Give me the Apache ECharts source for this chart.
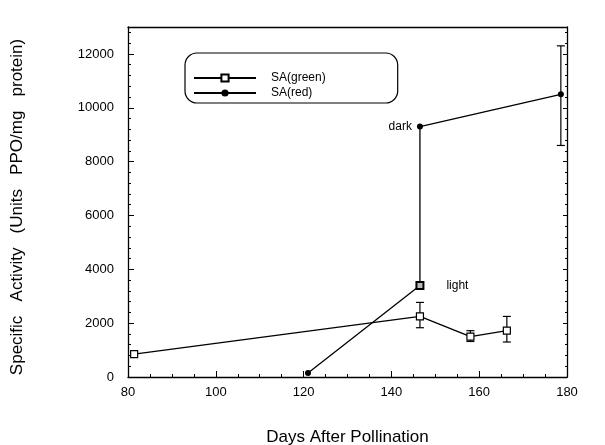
<!DOCTYPE html>
<html>
<head>
<meta charset="utf-8">
<title>Specific Activity</title>
<script src="https://cdn.jsdelivr.net/npm/echarts@6/dist/echarts.min.js"></script>
</head>
<body style="margin:0;background:#fff">
<div id="container" style="width:605px;height:445px"></div>
<script>
// days after pollination / specific activity
var greenDays = [81.4, 146.5, 158, 166.3];
var greenVals = [850, 2250, 1500, 1720];
var greenErrLow = [null, 1830, 1320, 1300];
var greenErrHigh = [null, 2770, 1720, 2250];

var redDays = [121, 146.5, 146.5, 178.6];
var redVals = [150, 3400, 9300, 10500];
var redErrLow = [null, null, null, 8600];
var redErrHigh = [null, null, null, 12300];

var xTicks = [80, 100, 120, 140, 160, 180];
var yTicks = [0, 2000, 4000, 6000, 8000, 10000, 12000];

var font = 'Liberation Sans, Arial, sans-serif';

function pairs(xs, ys) {
    var out = [];
    for (var i = 0; i < xs.length; i++) out.push([xs[i], ys[i]]);
    return out;
}
function errData(xs, lo, hi) {
    var out = [];
    for (var i = 0; i < xs.length; i++) {
        if (lo[i] != null) out.push([xs[i], lo[i], hi[i]]);
    }
    return out;
}
function renderErr(params, api) {
    var lo = api.coord([api.value(0), api.value(1)]);
    var hi = api.coord([api.value(0), api.value(2)]);
    var w = 4;
    var st = { stroke: '#000', lineWidth: 1.2 };
    return {
        type: 'group',
        children: [
            { type: 'line', shape: { x1: lo[0], y1: lo[1], x2: hi[0], y2: hi[1] }, style: st },
            { type: 'line', shape: { x1: lo[0] - w, y1: lo[1], x2: lo[0] + w, y2: lo[1] }, style: st },
            { type: 'line', shape: { x1: hi[0] - w, y1: hi[1], x2: hi[0] + w, y2: hi[1] }, style: st }
        ]
    };
}

var redData = pairs(redDays, redVals);
redData[1] = { value: redData[1], symbol: 'rect', symbolSize: 7,
    itemStyle: { color: '#bbb', borderColor: '#000', borderWidth: 2 },
    label: { show: true, position: 'right', distance: 22, formatter: 'light' } };
redData[2] = { value: redData[2],
    label: { show: true, position: 'left', distance: 5, formatter: 'dark' } };

var line = { show: true, onZero: false, lineStyle: { color: '#000', width: 1.3 } };

var myChart = echarts.init(document.getElementById('container'));
var option = {
    animation: false,
    backgroundColor: '#fff',
    textStyle: { fontFamily: font, color: '#000' },
    grid: { left: 128, right: 38, top: 27, bottom: 68, outerBoundsMode: 'none', containLabel: false },
    legend: {
        orient: 'vertical',
        left: 185, top: 53,
        padding: [19, 72, 4, 8],
        itemGap: 3,
        itemWidth: 62, itemHeight: 9,
        borderColor: '#000', borderWidth: 1.2, borderRadius: 12,
        textStyle: { fontFamily: font, fontSize: 12, color: '#000', padding: [0, 0, 0, 10] },
        data: ['SA(green)', 'SA(red)']
    },
    xAxis: [{
        type: 'value', min: 80, max: 180, interval: 20,
        name: 'Days After Pollination', nameLocation: 'middle', nameGap: 52,
        nameTextStyle: { fontFamily: font, fontSize: 17, color: '#000' },
        axisLine: line,
        axisTick: { show: true, inside: true, length: 6, lineStyle: { color: '#000' } },
        minorTick: { show: true, splitNumber: 4, length: 3, lineStyle: { color: '#000' } },
        axisLabel: { fontFamily: font, fontSize: 13, color: '#000', margin: 9,
            customValues: xTicks },
        splitLine: { show: false }
    }, {
        type: 'value', min: 80, max: 180, interval: 20, position: 'top',
        axisLine: line,
        axisTick: { show: false }, axisLabel: { show: false }, splitLine: { show: false }
    }],
    yAxis: [{
        type: 'value', min: 0, max: 13000, interval: 2000,
        name: 'Specific   Activity   (Units   PPO/mg   protein)', nameLocation: 'middle', nameGap: 102,
        nameTextStyle: { fontFamily: font, fontSize: 17, color: '#000', padding: [0, 10, 0, 0] },
        axisLine: line,
        axisTick: { show: true, inside: true, length: 6, lineStyle: { color: '#000' } },
        minorTick: { show: true, splitNumber: 5, length: 3, lineStyle: { color: '#000' } },
        axisLabel: { fontFamily: font, fontSize: 13, color: '#000', margin: 14,
            customValues: yTicks, formatter: function (v) { return String(v); } },
        splitLine: { show: false }
    }, {
        type: 'value', min: 0, max: 13000, interval: 2000, position: 'right',
        axisLine: line,
        axisTick: { show: true, inside: true, length: 4, lineStyle: { color: '#000' } },
        minorTick: { show: true, splitNumber: 5, length: 2, lineStyle: { color: '#000' } },
        axisLabel: { show: false }, splitLine: { show: false }
    }],
    series: [{
        name: 'SA(green)', type: 'line',
        data: pairs(greenDays, greenVals),
        symbol: 'rect', symbolSize: 7,
        itemStyle: { color: '#fff', borderColor: '#000', borderWidth: 1.2 },
        lineStyle: { color: '#000', width: 1.3 },
        z: 3
    }, {
        name: 'SA(red)', type: 'line',
        data: redData,
        symbol: 'circle', symbolSize: 6,
        itemStyle: { color: '#000' },
        lineStyle: { color: '#000', width: 1.3 },
        label: { fontFamily: font, fontSize: 12, color: '#000' },
        z: 3
    }, {
        type: 'custom', renderItem: renderErr,
        data: errData(greenDays, greenErrLow, greenErrHigh), z: 2
    }, {
        type: 'custom', renderItem: renderErr,
        data: errData(redDays, redErrLow, redErrHigh), z: 2
    }]
};
myChart.setOption(option);
</script>
</body>
</html>
